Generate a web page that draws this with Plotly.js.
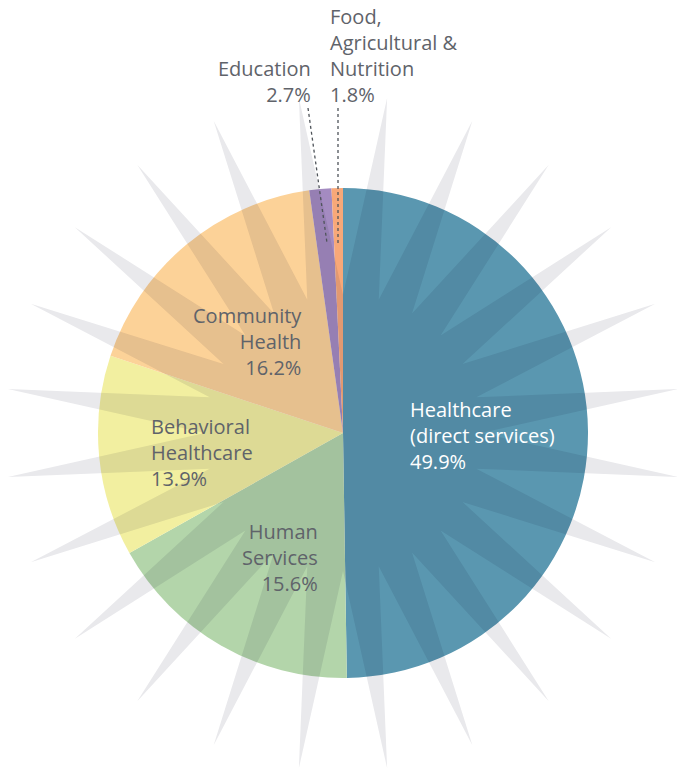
<!DOCTYPE html>
<html>
<head>
<meta charset="utf-8">
<script src="https://cdn.plot.ly/plotly-3.0.1.min.js"></script>
<style>html,body{margin:0;padding:0;background:#fff;}#chart{width:677px;height:768px;}</style>
</head>
<body>
<div id="chart"></div>
<script>
// Data
const categories = ["Healthcare (direct services)", "Human Services", "Behavioral Healthcare", "Community Health", "Education", "Food, Agricultural & Nutrition"];
// percentages as printed on the chart labels
const labelPercents = [49.9, 15.6, 13.9, 16.2, 2.7, 1.8];
// slice sizes as actually drawn in the reference picture
const drawnShares = [49.75, 17.1, 13.25, 17.7, 1.45, 0.75];
const sliceColors = ["#5a97b0", "#b3d5aa", "#f2efa0", "#fcd298", "#a48bc1", "#f8a878"];
const labelLines = [
  ["Healthcare", "(direct services)"],
  ["Human", "Services"],
  ["Behavioral", "Healthcare"],
  ["Community", "Health"],
  ["Education"],
  ["Food,", "Agricultural &", "Nutrition"]
];

// Layout geometry (pixels)
const W = 677, H = 768;
const cx = 343, cy = 433, R = 245;
const spikeCount = 24, spikeOuter = 338, spikeInner = 138;

// star burst decoration
let path = "";
for (let k = 0; k < spikeCount; k++) {
  const aIn = (k * 360 / spikeCount) * Math.PI / 180;
  const aOut = ((k + 0.5) * 360 / spikeCount) * Math.PI / 180;
  const xi = cx + spikeInner * Math.sin(aIn), yi = cy - spikeInner * Math.cos(aIn);
  const xo = cx + spikeOuter * Math.sin(aOut), yo = cy - spikeOuter * Math.cos(aOut);
  path += (k === 0 ? "M" : "L") + xi.toFixed(2) + "," + yi.toFixed(2) + " L" + xo.toFixed(2) + "," + yo.toFixed(2) + " ";
}
path += "Z";

const textColor = "#5f636a";
const fontFam = "'Open Sans', Lato, sans-serif";
const fs = 20;

const labelPos = [
  {x: 408, y: 435, xanchor: "left", align: "left", color: "#ffffff"},
  {x: 320, y: 557, xanchor: "right", align: "right", color: textColor},
  {x: 149, y: 452, xanchor: "left", align: "left", color: textColor},
  {x: 304, y: 341, xanchor: "right", align: "right", color: textColor},
  {x: 313, y: 81, xanchor: "right", align: "right", color: textColor},
  {x: 328, y: 55, xanchor: "left", align: "left", color: textColor}
];

const annotations = labelLines.map((lines, i) => ({
  text: lines.concat([labelPercents[i].toFixed(1) + "%"]).join("<br>"),
  x: labelPos[i].x, y: labelPos[i].y, xref: "x", yref: "y",
  xanchor: labelPos[i].xanchor, yanchor: "middle", align: labelPos[i].align,
  showarrow: false, font: {family: fontFam, size: fs, color: labelPos[i].color}
}));

const shapes = [
  {type: "path", path: path, xref: "x", yref: "y", layer: "above",
   fillcolor: "rgba(12,12,48,0.09)", line: {width: 0}},
  {type: "line", x0: 308, y0: 108, x1: 327, y1: 243, xref: "x", yref: "y", layer: "above",
   line: {color: "#4f545a", width: 1.3, dash: "dot"}},
  {type: "line", x0: 338, y0: 108, x1: 338, y1: 243, xref: "x", yref: "y", layer: "above",
   line: {color: "#4f545a", width: 1.3, dash: "dot"}}
];

const trace = {
  type: "pie",
  labels: categories,
  values: drawnShares,
  sort: false,
  direction: "clockwise",
  rotation: 0,
  textinfo: "none",
  hoverinfo: "label",
  marker: {colors: sliceColors, line: {width: 0}},
  domain: {x: [(cx - R) / W, (cx + R) / W], y: [(H - cy - R) / H, (H - cy + R) / H]},
  showlegend: false
};

const layout = {
  width: W, height: H,
  margin: {l: 0, r: 0, t: 0, b: 0},
  paper_bgcolor: "#ffffff", plot_bgcolor: "rgba(0,0,0,0)",
  xaxis: {range: [0, W], visible: false, fixedrange: true},
  yaxis: {range: [H, 0], visible: false, fixedrange: true},
  showlegend: false,
  shapes: shapes,
  annotations: annotations
};

Plotly.newPlot("chart", [trace], layout, {displayModeBar: false, staticPlot: true});
</script>
</body>
</html>
